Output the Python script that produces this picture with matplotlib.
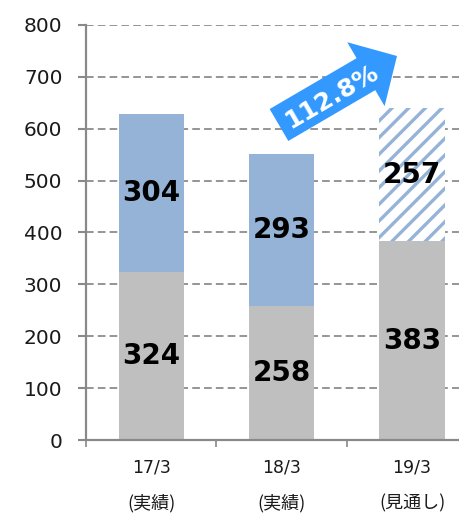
import matplotlib
matplotlib.use("Agg")
import matplotlib.pyplot as plt
from matplotlib.patches import FancyArrow

plt.rcParams['font.family'] = ['DejaVu Sans', 'Noto Sans CJK JP']
plt.rcParams['hatch.linewidth'] = 2.4
plt.rcParams['lines.scale_dashes'] = False

categories = ["17/3", "18/3", "19/3"]
sub_labels = ["(実績)", "(実績)", "(見通し)"]
base_values = [324, 258, 383]
top_values = [304, 293, 257]
top_hatched = [False, False, True]
growth_label = "112.8%"
yticks = [0, 100, 200, 300, 400, 500, 600, 700, 800]

gray = "#BFBFBF"
blue = "#95B3D7"
axis_col = "#898989"

fig = plt.figure(figsize=(4.59, 5.15), dpi=100)
ax = fig.add_axes([86/459, 75/515, 1 - 86/459, 415/515])

x = list(range(len(categories)))
ax.bar(x, base_values, width=0.5, color=gray, zorder=2)
for xi, b, t, h in zip(x, base_values, top_values, top_hatched):
    if h:
        ax.bar(xi, t, bottom=b, width=0.5, facecolor="white", edgecolor=blue,
               hatch="//", linewidth=0, zorder=2)
    else:
        ax.bar(xi, t, bottom=b, width=0.5, color=blue, zorder=2)
    ax.text(xi, b / 2, str(b), ha="center", va="center", fontsize=20,
            fontweight="bold", color="black", zorder=4)
    ax.text(xi, b + t / 2, str(t), ha="center", va="center", fontsize=20,
            fontweight="bold", color="black", zorder=4)

ax.set_ylim(0, 800)
ax.set_xlim(-0.5, 2.36)
ax.set_yticks(yticks)
ax.set_yticklabels([str(v) for v in yticks], fontsize=14.5, color="#1a1a1a")
ax.tick_params(axis="y", length=6, width=1.5, color=axis_col, pad=11)
ax.set_xticks([-0.5, 0.5, 1.5])
ax.set_xticklabels([])
ax.tick_params(axis="x", length=5, width=1.2, color=axis_col, direction="out")

ax.yaxis.grid(True, color="#8C8C8C", linewidth=1.3, dashes=(5.5, 3), zorder=0)
ax.set_axisbelow(True)
for s in ["top", "right"]:
    ax.spines[s].set_visible(False)
for s in ["left", "bottom"]:
    ax.spines[s].set_color(axis_col)
    ax.spines[s].set_linewidth(1.6)

trans = ax.get_xaxis_transform()
for xi, c, sl in zip(x, categories, sub_labels):
    ax.text(xi, -28/415, c, transform=trans, ha="center", va="center",
            fontsize=12.5, color="#1a1a1a")
    ax.text(xi, -63/415, sl, transform=trans, ha="center", va="center",
            fontsize=13, color="#1a1a1a", family=["Noto Sans CJK JP"])

# growth arrow (in inches, isotropic)
arr = FancyArrow(2.79, 3.90, 1.18, 0.69, width=0.37, head_width=0.74,
                 head_length=0.36, length_includes_head=True,
                 transform=fig.dpi_scale_trans, color="#3399FF", lw=0,
                 zorder=5)
fig.patches.append(arr)
fig.text(3.32 / 4.59, (515 - 97) / 515, growth_label, rotation=30.3,
         ha="center", va="center", fontsize=18, fontweight="bold",
         color="white", zorder=6, rotation_mode="anchor")

fig.savefig("out.png", dpi=100)
